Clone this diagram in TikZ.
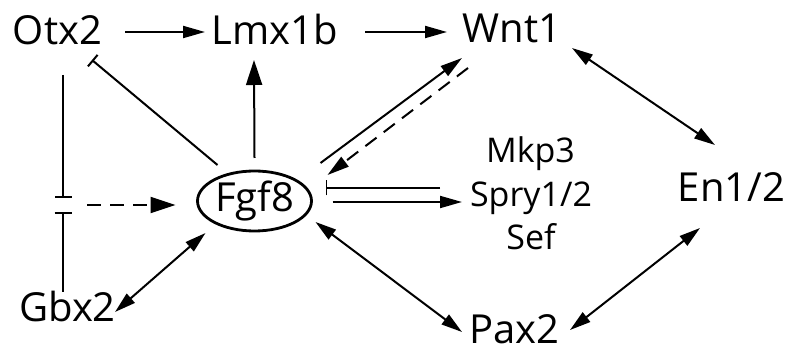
\documentclass[tikz,border=0pt]{standalone}
\usepackage{fontspec}
\setmainfont{Open Sans}
\usetikzlibrary{arrows.meta,shapes.geometric}
\begin{document}
\begin{tikzpicture}[x=1pt,y=-1pt,
  gene/.style={inner sep=0pt, anchor=base, font=\fontsize{40}{48}\selectfont},
  small/.style={inner sep=0pt, anchor=base, font=\fontsize{34}{40}\selectfont},
  link/.style={line width=2pt},
  act/.style={link, -{Triangle[length=22pt,width=12pt]}},
  bigact/.style={link, -{Triangle[length=25pt,width=16pt]}},
  both/.style={link, {Triangle[length=21pt,width=12pt]}-{Triangle[length=21pt,width=12pt]}},
  inh/.style={link, -{Bar[width=15pt]}},
  dashedlink/.style={dash pattern=on 14pt off 9pt}]
\useasboundingbox (0,0) rectangle (789,352);

% genes
\node[gene] (Otx2) at (57.5,45) {Otx2};
\node[gene] (Lmx1b) at (275,45) {Lmx1b};
\node[gene] (Wnt1) at (512,43) {Wnt1};
\node[gene] (En) at (731.5,202) {En1/2};
\node[gene] (Pax2) at (514.5,343) {Pax2};
\node[gene] (Gbx2) at (67.5,322) {Gbx2};
\node[draw, ellipse, line width=2.8pt, minimum width=114pt, minimum height=60pt,
      inner sep=0pt, font=\fontsize{40}{48}\selectfont] (Fgf8) at (254.5,201) {Fgf8};
\node[small] (Mkp3) at (530.5,163) {Mkp3};
\node[small] (Spry) at (531,207) {Spry1/2};
\node[small] (Sef) at (531,250) {Sef};
\coordinate (cross) at (63,205);

% top row
\draw[act] ([shift={(67.5,-13)}]Otx2.base) -- ([shift={(-70,-13)}]Lmx1b.base);
\draw[act] ([shift={(90,-13)}]Lmx1b.base) -- ([shift={(-65,-11)}]Wnt1.base);
\draw[bigact] ([shift={(0,-43)}]Fgf8.center) -- ([shift={(-21,15)}]Lmx1b.base);
\draw[inh] ([shift={(-37,-36)}]Fgf8.center) -- ([shift={(34.5,15)}]Otx2.base);

% Otx2 / Gbx2 mutual repression
\draw[link, line width=1.6pt, -{Bar[width=17pt]}] ([shift={(5.5,30)}]Otx2.base) -- ([shift={(0,-7)}]cross);
\draw[link, line width=1.6pt, -{Bar[width=17pt]}] ([shift={(-4.5,-30)}]Gbx2.base) -- ([shift={(0,7)}]cross);
\draw[bigact, dashedlink] ([shift={(24,0)}]cross) -- ([shift={(-79,4)}]Fgf8.center);
\draw[both] ([shift={(47.5,-10)}]Gbx2.base) -- ([shift={(-49,32)}]Fgf8.center);

% Fgf8 and Wnt1
\draw[act] ([shift={(66,-38)}]Fgf8.center) -- ([shift={(-50,15)}]Wnt1.base);
\draw[act, dashedlink] ([shift={(-44,25)}]Wnt1.base) -- ([shift={(73,-26)}]Fgf8.center);

% feedback inhibitors
\draw[inh, line width=1.8pt] ([shift={(-91,-19)}]Spry.base) -- ([shift={(71,-13)}]Fgf8.center);
\draw[act, line width=1.8pt] ([shift={(78,1)}]Fgf8.center) -- ([shift={(-69,-5)}]Spry.base);

% lower loop
\draw[both] ([shift={(61,21)}]Fgf8.center) -- ([shift={(-52.5,-11)}]Pax2.base);
\draw[both] ([shift={(55.5,-13)}]Pax2.base) -- ([shift={(-31.5,26)}]En.base);
\draw[both] ([shift={(60,5)}]Wnt1.base) -- ([shift={(-16.5,-57)}]En.base);
\end{tikzpicture}
\end{document}
